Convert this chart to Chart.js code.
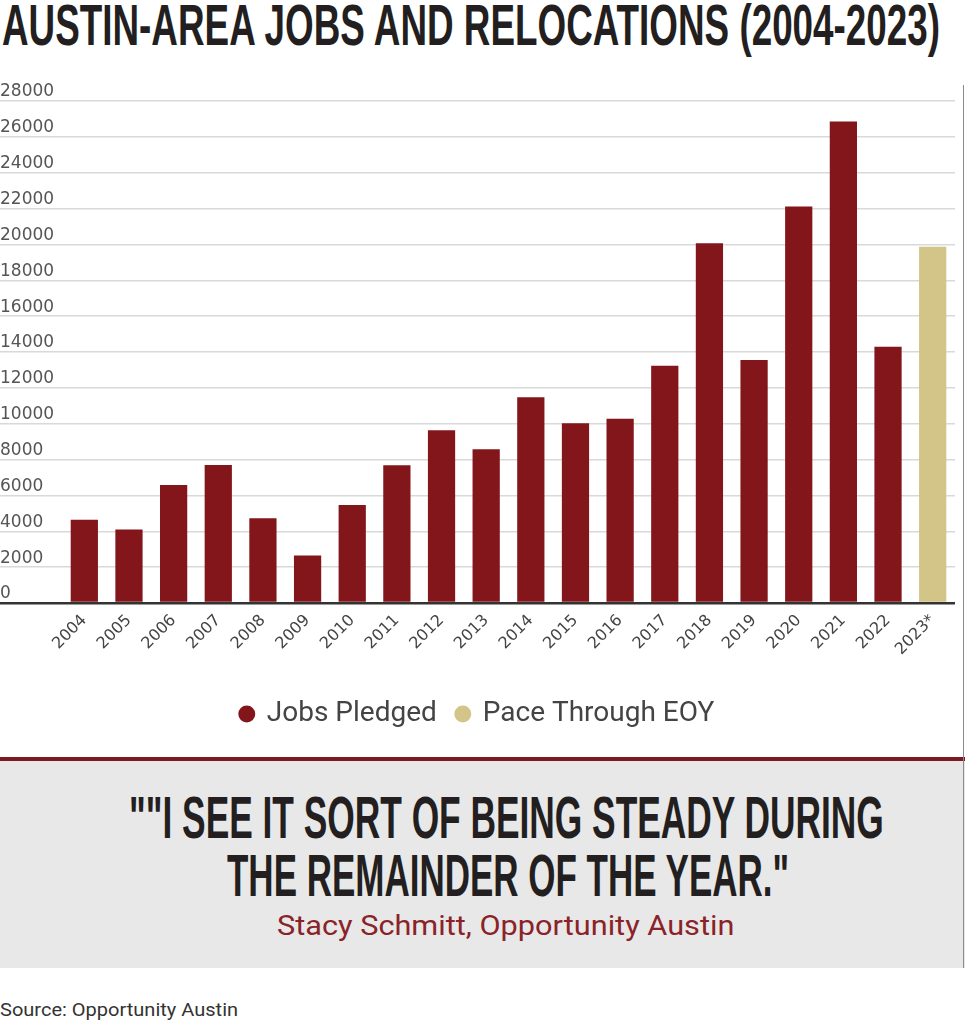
<!DOCTYPE html>
<html>
<head>
<meta charset="utf-8">
<script src="https://cdn.jsdelivr.net/npm/chart.js@4.4.0/dist/chart.umd.min.js"></script>
<style>
body { margin:0; background:#fff; width:965px; height:1024px; position:relative; overflow:hidden; font-family:Roboto, sans-serif; }
.fit { position:absolute; white-space:nowrap; transform-origin:0 0; line-height:1; font-family:"Liberation Sans Narrow", sans-serif; font-weight:bold; color:#231f20; }
#title { top:-4px; font-size:58px; }
#chartBox { position:absolute; left:0; top:69px; width:965px; height:669px; }
#rule { position:absolute; left:0; top:757px; width:965px; height:4px; background:#7b1b20; }
#quoteBox { position:absolute; left:0; top:761px; width:965px; height:207px; background:#e8e8e8; }
#q1 { top:787.5px; font-size:60px; }
#q2 { top:845.5px; font-size:60px; }
#who { top:913px; font-family:Roboto, sans-serif; font-weight:normal; font-size:27px; color:#8a2328; }
#source { top:1001px; font-family:Roboto, sans-serif; font-weight:normal; font-size:18px; color:#333; }
#edge { position:absolute; left:963px; top:85px; width:1px; height:883px; background:#8a8a8a; }
</style>
</head>
<body>
<div id="title" class="fit">AUSTIN-AREA JOBS AND RELOCATIONS (2004-2023)</div>
<div id="chartBox"><canvas id="jobsChart"></canvas></div>
<div id="rule"></div>
<div id="quoteBox"></div>
<div id="q1" class="fit">""I SEE IT SORT OF BEING STEADY DURING</div>
<div id="q2" class="fit">THE REMAINDER OF THE YEAR."</div>
<div id="who" class="fit">Stacy Schmitt, Opportunity Austin</div>
<div id="source" class="fit">Source: Opportunity Austin</div>
<div id="edge"></div>

<script>
// values (jobs per year)
var years = ['2004', '2005', '2006', '2007', '2008', '2009', '2010', '2011', '2012', '2013',
	'2014', '2015', '2016', '2017', '2018', '2019', '2020', '2021', '2022', '2023*'];
var jobsPledged = [4650, 4100, 6580, 7700, 4730, 2650, 5460, 7690, 9630, 8580,
	11480, 10020, 10270, 13230, 20060, 13560, 22120, 26850, 14290, null];
var paceThroughEOY = [null, null, null, null, null, null, null, null, null, null,
	null, null, null, null, null, null, null, null, null, 19870];
var yMax = 28000;
var yStep = 2000;

// squeeze the condensed headline text to the widths in the picture
function fit(id, width, anchor, x) {
	var el = document.getElementById(id);
	var s = width / el.offsetWidth;
	el.style.transform = 'scaleX(' + s + ')';
	el.style.left = (anchor == 'center' ? x - width / 2 : x) + 'px';
}
fit('title', 938, 'left', 2);
fit('q1', 755, 'center', 506);
fit('q2', 562, 'center', 508);
fit('who', 457, 'center', 505.5);
fit('source', 238, 'left', 0);

var ctx = document.getElementById('jobsChart');

var data = {
	labels: years,
	datasets: [
		{
			label: 'Jobs Pledged',
			data: jobsPledged,
			backgroundColor: '#82161b',
			barPercentage: 0.61,
			categoryPercentage: 1
		},
		{
			label: 'Pace Through EOY',
			data: paceThroughEOY,
			backgroundColor: '#d3c488',
			barPercentage: 0.61,
			categoryPercentage: 1
		}
	]
};

var chart = new Chart(ctx, {
	type: 'bar',
	data: data,
	options: {
		responsive: true,
		maintainAspectRatio: false,
		animation: false,
		layout: { padding: { top: 32, right: 10, left: 0, bottom: 0 } },
		plugins: {
			legend: {
				position: 'bottom',
				labels: {
					usePointStyle: true,
					pointStyle: 'circle',
					boxWidth: 12,
					boxHeight: 12,
					padding: 20,
					color: '#444',
					font: { family: 'Roboto', size: 28 }
				}
			},
			tooltip: { enabled: false }
		},
		scales: {
			x: {
				stacked: true,
				grid: { display: false },
				border: { display: false },
				ticks: {
					color: '#444',
					font: { family: 'DejaVu Sans', size: 16 },
					minRotation: 45,
					maxRotation: 45,
					padding: 0,
					autoSkip: false
				},
				afterFit: function (scale) { scale.height = 77; }
			},
			y: {
				stacked: true,
				min: 0,
				max: yMax,
				border: { display: false },
				grid: {
					color: function (c) { return c.tick && c.tick.value === 0 ? '#333' : '#d9d9d9'; },
					lineWidth: function (c) { return c.tick && c.tick.value === 0 ? 2.5 : 1.5; },
					drawTicks: true,
					tickLength: 62
				},
				ticks: {
					stepSize: yStep,
					crossAlign: 'far',
					labelOffset: -9,
					padding: 0,
					color: '#555',
					font: { family: 'DejaVu Sans', size: 17 },
					callback: function (v) { return String(v); }
				},
				afterFit: function (scale) { scale.width = 62; }
			}
		}
	}
});
</script>
</body>
</html>
